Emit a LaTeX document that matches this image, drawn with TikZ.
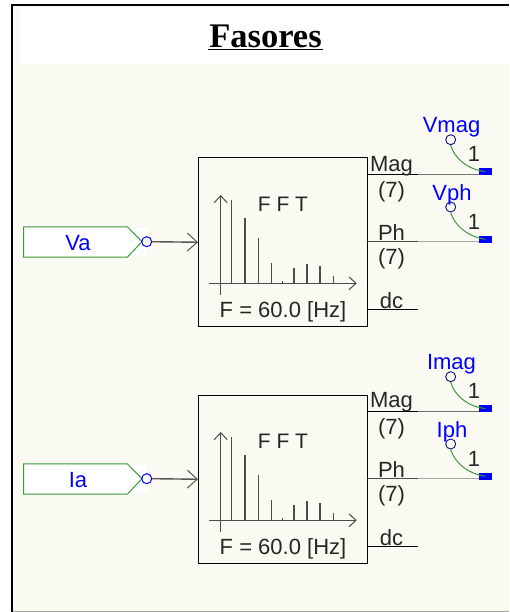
\documentclass[tikz,border=0pt]{standalone}
\usepackage{fontspec}
\setmainfont{Liberation Sans}
\newfontfamily\titlefont{Liberation Serif}
\usetikzlibrary{arrows.meta}
\definecolor{paper}{HTML}{FAFAF2}
\definecolor{wire}{HTML}{555555}
\definecolor{sgreen}{HTML}{3E9A3E}
\definecolor{pinblue}{HTML}{0000FF}
\definecolor{navy2}{HTML}{10107A}
\tikzset{
  x=1pt,y=-1pt,
  lab/.style={inner sep=0pt,font=\fontsize{22}{24}\selectfont,text=black!85},
  bluelab/.style={inner sep=0pt,font=\fontsize{22}{24}\selectfont,text=pinblue},
  fftbox/.style={draw=black,line width=1pt,fill=paper,minimum width=168.5pt,minimum height=168.5pt,inner sep=0pt,anchor=north west},
  inputtag/.style={draw=sgreen,line width=1pt},
  port/.style={black,line width=1pt},
  sigwire/.style={draw=wire,line width=1.4pt},
  spec/.style={draw=black!70,line width=1.1pt},
  pin/.style={circle,draw=navy2,line width=.9pt,minimum size=10pt,inner sep=0pt},
  inpin/.style={circle,draw=pinblue,line width=1pt,minimum size=10pt,inner sep=0pt},
  tag/.style={fill=pinblue,inner sep=0pt,minimum width=13pt,minimum height=7pt},
  barb/.style={-{Straight Barb[length=10pt,width=18pt,line width=1pt]}},
  smallbarb/.style={-{Straight Barb[length=7pt,width=13pt,line width=1pt]}},
}
\begin{document}
\begin{tikzpicture}
\useasboundingbox (0,0) rectangle (509,612);
\fill[white] (0,0) rectangle (509,612);
\fill[paper] (12,5) rectangle (509,611);
\fill[white] (20,8) rectangle (509,64);
\draw[black!35,line width=1pt] (12,611.5) -- (509,611.5);
\draw[black,line width=2pt] (12,612) -- (12,5) -- (509,5);
\node[inner sep=0pt,font=\fontsize{34.5}{38}\selectfont\titlefont\bfseries] (title) at (265.5,36) {Fasores};
\draw[black,line width=1.6pt] (208,49.5) -- (323,49.5);
\foreach \p/\dy/\inp/\mg/\ph/\mgy in {u/0/Va/Vmag/Vph/166.5,l/237/Ia/Imag/Iph/165.5}{
\begin{scope}[shift={(0,\dy)},name prefix=\p-]
  % input tag
  \fill[white] (24,228) rectangle (147,256);
  \draw[inputtag] (23.5,226.8) -- (127.3,226.8) -- (142,241.7) -- (127.3,257.2) -- (23.5,257.2) -- cycle;
  \node[bluelab] (inlabel) at (78,243.5) {\inp};
  \node[inpin] (dot) at (146.7,241.7) {};
  % block
  \node[fftbox] (fft) at (198,157.5) {};
  \draw[sigwire,barb] (dot.east) -- (fft.west);
  % spectrum
  \coordinate (ytop) at (220.7,195);
  \coordinate (ybot) at (220.7,295);
  \coordinate (xl) at (209,283.3);
  \coordinate (xr) at (356.7,283.3);
  \draw[spec,smallbarb] (ybot) -- (ytop);
  \draw[spec,smallbarb] (xl) -- (xr);
  \foreach \x/\t in {231.7/200,245/217.7,258.3/238.3,271.7/262.7,282.7/281,294/268.3,307/264.3,320/266.3,333.3/275.7}
    \draw[spec] (\x,283.3) -- (\x,\t);
  \node[lab,font=\fontsize{21}{24}\selectfont] (ffttext) at (283,204.5) {F F T};
  \node[lab] (freq) at (283,312) {F = 60.0 [Hz]};
  % outputs
  \coordinate (magport) at (366.5,174.3);
  \coordinate (magstub) at (418,174.3);
  \coordinate (phport) at (366.5,241.7);
  \coordinate (phstub) at (418,241.7);
  \coordinate (dcport) at (366.5,309);
  \coordinate (dcstub) at (418,309);
  \node[tag] (magtag) at (485.5,171.5) {};
  \node[tag] (phtag) at (485.5,239.3) {};
  \draw[black!55,line width=1pt] (magstub) -- (magstub -| magtag.west);
  \draw[black!35,line width=1pt] (phstub) -- (phstub -| phtag.west);
  \draw[port] (magport) -- (magstub);
  \draw[black!70,line width=1pt] (phport) -- (phstub);
  \draw[port] (dcport) -- (dcstub);
  \node[lab] (maglabel) at (391.5,\mgy) {Mag};
  \node[lab] (mag7) at (391.5,191.5) {(7)};
  \node[lab] (phlabel) at (391.5,232.5) {Ph};
  \node[lab] (ph7) at (391.5,258.5) {(7)};
  \node[lab] (dclabel) at (391.5,300.5) {dc};
  % meters
  \node[pin] (magpin) at (450.7,139.7) {};
  \node[pin] (phpin) at (450.7,207) {};
  \draw[sgreen,line width=1pt] (magpin.south) .. controls (454,158) and (468,170) .. (magtag.center);
  \draw[sgreen,line width=1pt] (phpin.south) .. controls (454,225) and (468,237) .. (phtag.center);
  \node[bluelab] (magname) at (451.5,127.5) {\mg};
  \node[bluelab] (phname) at (452,195) {\ph};
  \node[lab] (magone) at (474,154) {1};
  \node[lab] (phone) at (474,222) {1};
\end{scope}
}
\end{tikzpicture}
\end{document}
